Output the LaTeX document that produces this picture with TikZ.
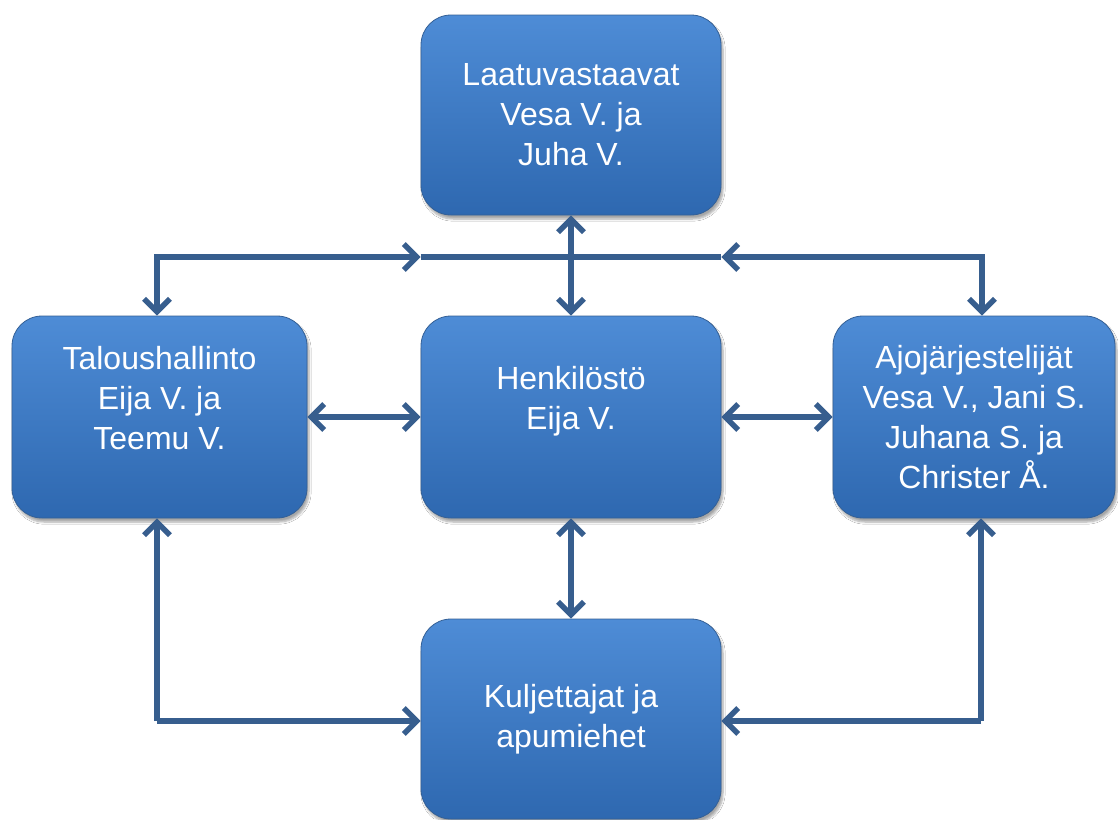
\documentclass[tikz,border=0pt]{standalone}
\usepackage{fontspec}
\setmainfont{Liberation Sans}
\usetikzlibrary{arrows.meta,shadows.blur}
\definecolor{boxtop}{RGB}{78,140,214}
\definecolor{boxbot}{RGB}{46,104,176}
\definecolor{boxline}{RGB}{52,96,150}
\definecolor{arrowc}{RGB}{55,94,142}
\tikzset{
  orgbox/.style={draw=boxline, line width=0.8pt, rounded corners=30pt,
    top color=boxtop, bottom color=boxbot, text=white, align=center,
    font=\fontsize{32pt}{40pt}\selectfont, inner sep=0pt,
    blur shadow={shadow xshift=2pt, shadow yshift=-4pt, shadow blur steps=6, shadow opacity=35}},
  barb/.tip={Straight Barb[length=13pt,width=26pt,line width=5.4pt]},
  conn/.style={draw=arrowc, line width=5.4pt, arrows={barb-barb}},
  conn1/.style={draw=arrowc, line width=5.4pt, arrows={-barb}},
  bus/.style={draw=arrowc, line width=5.4pt}
}
\begin{document}
\begin{tikzpicture}[x=1pt,y=-1pt]
\useasboundingbox (0,0) rectangle (1118,819);
\fill[white] (0,0) rectangle (1118,819);
\node[orgbox, minimum width=300pt, minimum height=200pt] (top) at (571,115) {Laatuvastaavat\\Vesa V. ja\\Juha V.};
\node[orgbox, minimum width=295pt, minimum height=202pt] (left) at (159.5,417) {Taloushallinto\\Eija V. ja\\Teemu V.\\[-14pt]\strut};
\node[orgbox, minimum width=300pt, minimum height=202pt] (center) at (571,417) {Henkilöstö\\Eija V.\\[-14pt]\strut};
\node[orgbox, minimum width=282pt, minimum height=202pt] (right) at (974,417) {Ajojärjestelijät\\Vesa V., Jani S.\\Juhana S. ja\\Christer Å.};
\node[orgbox, minimum width=300pt, minimum height=200pt] (bottom) at (571,719) {Kuljettajat ja\\apumiehet};

\coordinate (tl) at (157,257);
\coordinate (tr) at (982,257);
\coordinate (bl) at (157,721);
\coordinate (br) at (981,721);

% top horizontal bus
\draw[bus] (center.north west |- tl) -- (center.north east |- tr);
\draw[conn] (left.north -| tl) -- (tl) -- (center.north west |- tl);
\draw[conn] (right.north -| tr) -- (tr) -- (center.north east |- tr);
\draw[conn] (top.south -| center.north) -- (center.north);

% middle row
\draw[conn] (left.east) -- (center.west);
\draw[conn] (center.east) -- (right.west);

% bottom
\draw[conn] (center.south) -- (bottom.north);
\draw[conn1] (bl) -- (left.south -| bl);
\draw[conn1] (bl) -- (bottom.west |- bl);
\draw[conn1] (br) -- (right.south -| br);
\draw[conn1] (br) -- (bottom.east |- br);
\end{tikzpicture}
\end{document}
